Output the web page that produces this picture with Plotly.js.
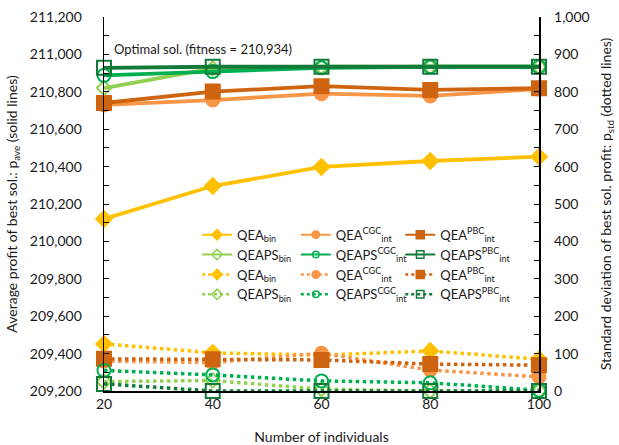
<!DOCTYPE html>
<html>
<head>
<meta charset="utf-8">
<script src="https://cdn.plot.ly/plotly-3.0.1.min.js"></script>
<style>html,body{margin:0;padding:0;background:#fff;}#chart{width:619px;height:445px;}</style>
</head>
<body>
<div id="chart"></div>
<script>
// x categories
const individuals = [20, 40, 60, 80, 100];

// average profit of best solution (left axis, solid lines)
const aveQEAbin   = [210120, 210296, 210398, 210430, 210453];
const aveQEAcgc   = [210730, 210756, 210790, 210778, 210815];
const aveQEApbc   = [210740, 210801, 210830, 210810, 210819];
const aveQEAPSbin = [210820, 210925, 210934, 210934, 210934];
const aveQEAPScgc = [210888, 210908, 210928, 210934, 210934];
const aveQEAPSpbc = [210928, 210934, 210934, 210934, 210934];

// standard deviation of best solution profit (right axis, dotted lines)
const stdQEAbin   = [126, 102, 96, 107, 85];
const stdQEAcgc   = [80, 76, 101, 56, 38];
const stdQEApbc   = [86, 85, 83, 72, 69];
const stdQEAPSbin = [25, 28, 5, 0, 0];
const stdQEAPScgc = [55, 43, 27, 22, 2];
const stdQEAPSpbc = [19, 0, 0, 0, 0];

const names = [
  'QEA<sub>bin</sub>',
  'QEA<sup>CGC</sup><sub>int</sub>',
  'QEA<sup>PBC</sup><sub>int</sub>',
  'QEAPS<sub>bin</sub>',
  'QEAPS<sup>CGC</sup><sub>int</sub>',
  'QEAPS<sup>PBC</sup><sub>int</sub>'
];
const optimalText = 'Optimal sol. (fitness = 210,934)';
const optimalValue = 210934;

const colors   = ['#FFC000', '#F79646', '#CF6410', '#92D050', '#00B050', '#137A3A'];
const symbols  = ['diamond', 'circle', 'square', 'diamond-open', 'circle-open', 'square-open'];
const msizes   = [12, 13, 14, 11, 13, 14];
const legSizes = [8, 7.5, 8, 8, 6.5, 7.5];
const legendOf = ['legend', 'legend2', 'legend3', 'legend', 'legend2', 'legend3'];

const aveSeries = [aveQEAbin, aveQEAcgc, aveQEApbc, aveQEAPSbin, aveQEAPScgc, aveQEAPSpbc];
const stdSeries = [stdQEAbin, stdQEAcgc, stdQEApbc, stdQEAPSbin, stdQEAPScgc, stdQEAPSpbc];

const traces = [];
const idx = [0, 1, 2, 3, 4, 5];
// data traces (legend entries drawn by the legend-only traces below)
idx.forEach(i => {
  traces.push({
    x: individuals, y: stdSeries[i], yaxis: 'y2', showlegend: false,
    type: 'scatter', mode: 'lines+markers', cliponaxis: false,
    line: {color: colors[i], width: 3.5, dash: 'dot'},
    marker: {symbol: symbols[i], size: msizes[i], color: colors[i], line: {color: colors[i], width: 2}}
  });
});
idx.forEach(i => {
  traces.push({
    x: individuals, y: aveSeries[i], yaxis: 'y', showlegend: false,
    type: 'scatter', mode: 'lines+markers', cliponaxis: false,
    line: {color: colors[i], width: 3.8},
    marker: {symbol: symbols[i], size: msizes[i], color: colors[i], line: {color: colors[i], width: 2}}
  });
});
// legend entries: solid then dotted, three columns
idx.forEach(i => {
  traces.push({
    x: [null], y: [null], name: names[i], type: 'scatter', mode: 'lines+markers',
    legend: legendOf[i], legendrank: i + 1,
    line: {color: colors[i], width: 2},
    marker: {symbol: symbols[i], size: legSizes[i], color: colors[i], line: {color: colors[i], width: 1.5}}
  });
});
idx.forEach(i => {
  traces.push({
    x: [null], y: [null], name: names[i], type: 'scatter', mode: 'lines+markers',
    legend: legendOf[i], legendrank: i + 7,
    line: {color: colors[i], width: 2.5, dash: 'dot'},
    marker: {symbol: symbols[i], size: legSizes[i], color: colors[i], line: {color: colors[i], width: 1.5}}
  });
});

const fontFam = 'Lato, "Open Sans", sans-serif';
const legBase = (x) => ({
  orientation: 'v', x: x, y: 0.458, xanchor: 'left', yanchor: 'top',
  itemsizing: 'trace', bgcolor: 'rgba(0,0,0,0)', borderwidth: 0,
  font: {family: fontFam, size: 13, color: '#1a1a1a'},
  tracegroupgap: 0, traceorder: 'normal'
});
const nb = '\u00a0';
const layout = {
  width: 619, height: 445,
  margin: {l: 104, r: 80, t: 17, b: 54, pad: 0},
  paper_bgcolor: '#fff', plot_bgcolor: '#fff',
  font: {family: fontFam, size: 14, color: '#1a1a1a'},
  showlegend: true,
  legend: legBase(0.214),
  legend2: legBase(0.441),
  legend3: legBase(0.681),
  xaxis: {
    range: [20, 100], tickvals: individuals, ticks: '', showgrid: false, zeroline: false,
    showline: true, linecolor: '#000', linewidth: 1.5,
    tickfont: {size: 14}, title: {text: 'Number of individuals', font: {size: 14}, standoff: 22}
  },
  yaxis: {
    range: [209200, 211200], dtick: 200, tickformat: ',d', showgrid: false, zeroline: false,
    showline: true, linecolor: '#000', linewidth: 1.5, ticks: 'inside', ticklen: 5, tickcolor: '#000',
    minor: {dtick: 100, ticks: 'inside', ticklen: 5, tickcolor: '#000'},
    ticksuffix: nb.repeat(5), tickfont: {size: 14},
    title: {text: 'Average profit of best sol.: p<sub>ave</sub> (solid lines)', font: {size: 14}, standoff: 9}
  },
  yaxis2: {
    range: [0, 1000], dtick: 100, tickformat: ',d', overlaying: 'y', side: 'right',
    showgrid: false, zeroline: false,
    showline: true, linecolor: '#000', linewidth: 1.5, ticks: 'inside', ticklen: 5, tickcolor: '#000',
    minor: {dtick: 50, ticks: 'inside', ticklen: 5, tickcolor: '#000'},
    tickprefix: nb.repeat(3), tickfont: {size: 14},
    title: {text: 'Standard deviation of best sol. profit: p<sub>std</sub> (dotted lines)', font: {size: 14}, standoff: 12}
  },
  annotations: [{
    x: individuals[0], y: optimalValue, xref: 'x', yref: 'y', xanchor: 'left', yanchor: 'bottom',
    xshift: 8, yshift: 8, showarrow: false, text: optimalText, font: {size: 13, color: '#1a1a1a'}
  }]
};

Plotly.newPlot('chart', traces, layout, {displayModeBar: false, staticPlot: true});
</script>
</body>
</html>
